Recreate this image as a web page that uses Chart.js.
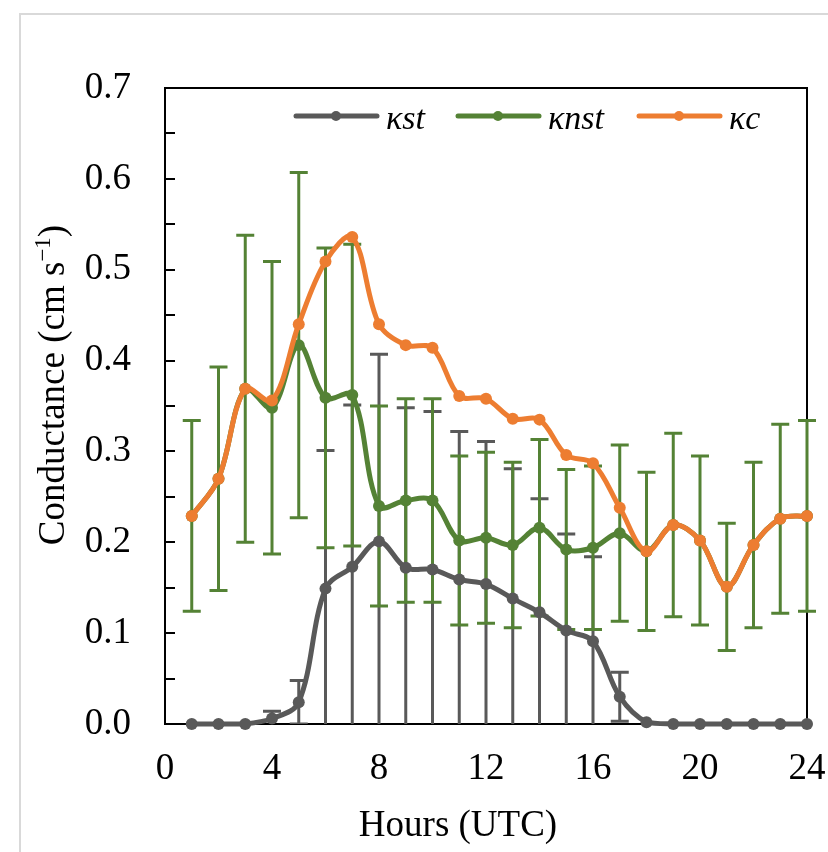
<!DOCTYPE html>
<html>
<head>
<meta charset="utf-8">
<script src="https://cdn.jsdelivr.net/npm/chart.js@4.4.1/dist/chart.umd.min.js"></script>
<style>
  html, body { margin: 0; padding: 0; background: #fff; overflow: hidden; }
  #wrap { position: relative; width: 828px; height: 852px; }
  #frame { position: absolute; left: 19px; top: 13px; right: -10px; bottom: -10px;
           border-left: 2px solid #d9d9d9; border-top: 2px solid #d9d9d9; pointer-events: none; }
</style>
</head>
<body>
<div id="wrap">
  <canvas id="chart"></canvas>
  <div id="frame"></div>
</div>
<script>
// hours of the day (UTC)
const hours = [1,2,3,4,5,6,7,8,9,10,11,12,13,14,15,16,17,18,19,20,21,22,23,24]

// stomatal conductance and its error
const kst = [0, 0, 0, 0.006, 0.024, 0.149, 0.173, 0.201, 0.172, 0.170, 0.159, 0.154,
             0.138, 0.123, 0.103, 0.091, 0.030, 0.002, 0, 0, 0, 0, 0, 0]
const kstErr = [0, 0, 0, 0.008, 0.024, 0.152, 0.178, 0.206, 0.176, 0.174, 0.163, 0.157,
                0.143, 0.125, 0.106, 0.093, 0.027, 0, 0, 0, 0, 0, 0, 0]

// non-stomatal conductance and its error
const knst = [0.229, 0.270, 0.369, 0.348, 0.417, 0.359, 0.362, 0.240, 0.246, 0.246, 0.202, 0.205,
              0.197, 0.216, 0.192, 0.194, 0.210, 0.190, 0.219, 0.202, 0.151, 0.197, 0.226, 0.229]
const knstErr = [0.105, 0.123, 0.169, 0.161, 0.190, 0.165, 0.166, 0.110, 0.112, 0.112, 0.093, 0.094,
                 0.091, 0.097, 0.088, 0.090, 0.097, 0.087, 0.101, 0.093, 0.070, 0.091, 0.104, 0.105]

// canopy conductance
const kc = [0.229, 0.270, 0.369, 0.356, 0.440, 0.509, 0.536, 0.440, 0.417, 0.414, 0.361, 0.358,
            0.336, 0.335, 0.296, 0.287, 0.238, 0.190, 0.219, 0.202, 0.151, 0.197, 0.226, 0.229]

const yTicks = [0, 0.1, 0.2, 0.3, 0.4, 0.5, 0.6, 0.7]
const xTicks = [0, 4, 8, 12, 16, 20, 24]

const gray = '#595959'
const green = '#548235'
const orange = '#ED7D31'
const serif = "'Liberation Serif', 'Times New Roman', serif"
const fs = 37

Chart.defaults.font.family = serif
Chart.defaults.color = '#000'

const pts = (arr) => hours.map((h, i) => ({x: h, y: arr[i]}))

// error bars for the first two series, [dataset index, errors, colour]
const errorSets = [[0, kstErr, gray], [1, knstErr, green]]

const extras = {
  id: 'extras',
  beforeDatasetsDraw(chart) {
    const {ctx, chartArea: a, scales: {x, y}} = chart
    ctx.save()
    ctx.strokeStyle = '#000'
    ctx.lineWidth = 2
    ctx.beginPath()
    ctx.moveTo(a.left, a.top)
    ctx.lineTo(a.right, a.top)
    ctx.lineTo(a.right, a.bottom)
    // inside tick marks every 0.05
    for (let k = 1; k < 14; k++) {
      const py = Math.round(y.getPixelForValue(k * 0.05))
      ctx.moveTo(a.left, py)
      ctx.lineTo(a.left + 10, py)
    }
    ctx.stroke()

    ctx.beginPath()
    ctx.rect(0, 0, chart.width, a.bottom)
    ctx.clip()
    ctx.lineWidth = 3
    errorSets.forEach(([di, err, col]) => {
      const vals = chart.data.datasets[di].data
      ctx.strokeStyle = col
      vals.forEach((p, i) => {
        if (!err[i]) return
        const px = x.getPixelForValue(p.x)
        const top = y.getPixelForValue(p.y + err[i])
        const bot = y.getPixelForValue(p.y - err[i])
        ctx.beginPath()
        ctx.moveTo(px, top); ctx.lineTo(px, bot)
        ctx.moveTo(px - 9, top); ctx.lineTo(px + 9, top)
        ctx.moveTo(px - 9, bot); ctx.lineTo(px + 9, bot)
        ctx.stroke()
      })
    })
    ctx.restore()
  },
  afterDraw(chart) {
    const {ctx} = chart
    ctx.save()
    // legend
    const items = [[294, 386, 'κst', gray], [456, 548, 'κnst', green], [637, 729, 'κc', orange]]
    items.forEach(([lx, tx, txt, col]) => {
      ctx.strokeStyle = col
      ctx.fillStyle = col
      ctx.lineWidth = 5
      ctx.lineCap = 'round'
      ctx.beginPath()
      ctx.moveTo(lx + 2, 116); ctx.lineTo(lx + 83, 116)
      ctx.stroke()
      ctx.beginPath()
      ctx.arc(lx + 42, 116, 5, 0, Math.PI * 2)
      ctx.fill()
      ctx.fillStyle = '#000'
      ctx.font = 'italic 34px ' + serif
      ctx.textBaseline = 'alphabetic'
      ctx.textAlign = 'left'
      ctx.fillText(txt, tx, 129)
    })

    // x title
    ctx.fillStyle = '#000'
    ctx.font = fs + 'px ' + serif
    ctx.textAlign = 'center'
    ctx.textBaseline = 'alphabetic'
    ctx.fillText('Hours (UTC)', 458, 836)

    // y title with superscript
    ctx.translate(64, 385)
    ctx.rotate(-Math.PI / 2)
    const main = 'Conductance (cm s'
    const sup = '−1'
    const end = ')'
    ctx.font = fs + 'px ' + serif
    const w1 = ctx.measureText(main).width
    const w3 = ctx.measureText(end).width
    ctx.font = '23px ' + serif
    const w2 = ctx.measureText(sup).width
    let sx = -(w1 + w2 + w3) / 2
    ctx.textAlign = 'left'
    ctx.font = fs + 'px ' + serif
    ctx.fillText(main, sx, 0)
    ctx.font = '23px ' + serif
    ctx.fillText(sup, sx + w1, -14)
    ctx.font = fs + 'px ' + serif
    ctx.fillText(end, sx + w1 + w2, 0)
    ctx.restore()
  }
}

const lineSet = (label, arr, col, order) => ({
  label: label,
  data: pts(arr),
  borderColor: col,
  backgroundColor: col,
  borderWidth: 5,
  pointRadius: 6,
  pointBorderWidth: 0,
  pointBackgroundColor: col,
  tension: 0.35,
  clip: false,
  order: order
})

const config = {
  type: 'line',
  data: {
    datasets: [
      lineSet('κst', kst, gray, 3),
      lineSet('κnst', knst, green, 2),
      lineSet('κc', kc, orange, 1)
    ]
  },
  options: {
    responsive: true,
    maintainAspectRatio: false,
    animation: false,
    layout: { padding: { left: 0, top: 88, right: 0, bottom: 0 } },
    scales: {
      x: {
        type: 'linear',
        min: 0,
        max: 24,
        afterBuildTicks: (s) => { s.ticks = xTicks.map(v => ({value: v})) },
        afterFit: (s) => { s.height = 128; s.paddingRight = 21; s.paddingLeft = 0 },
        grid: { display: true, drawOnChartArea: false, drawTicks: false },
        border: { display: true, color: '#000', width: 2 },
        ticks: { font: { size: fs }, padding: 23, color: '#000', maxRotation: 0 }
      },
      y: {
        min: 0,
        max: 0.7,
        afterBuildTicks: (s) => { s.ticks = yTicks.map(v => ({value: v})) },
        afterFit: (s) => { s.width = 165 },
        grid: { display: true, drawOnChartArea: false, drawTicks: false },
        border: { display: true, color: '#000', width: 2 },
        ticks: { font: { size: fs }, padding: 34, color: '#000', callback: (v) => v.toFixed(1) }
      }
    },
    plugins: {
      legend: { display: false },
      tooltip: { enabled: false }
    }
  },
  plugins: [extras]
}

var myChart = new Chart(document.getElementById('chart'), config)
</script>
</body>
</html>
